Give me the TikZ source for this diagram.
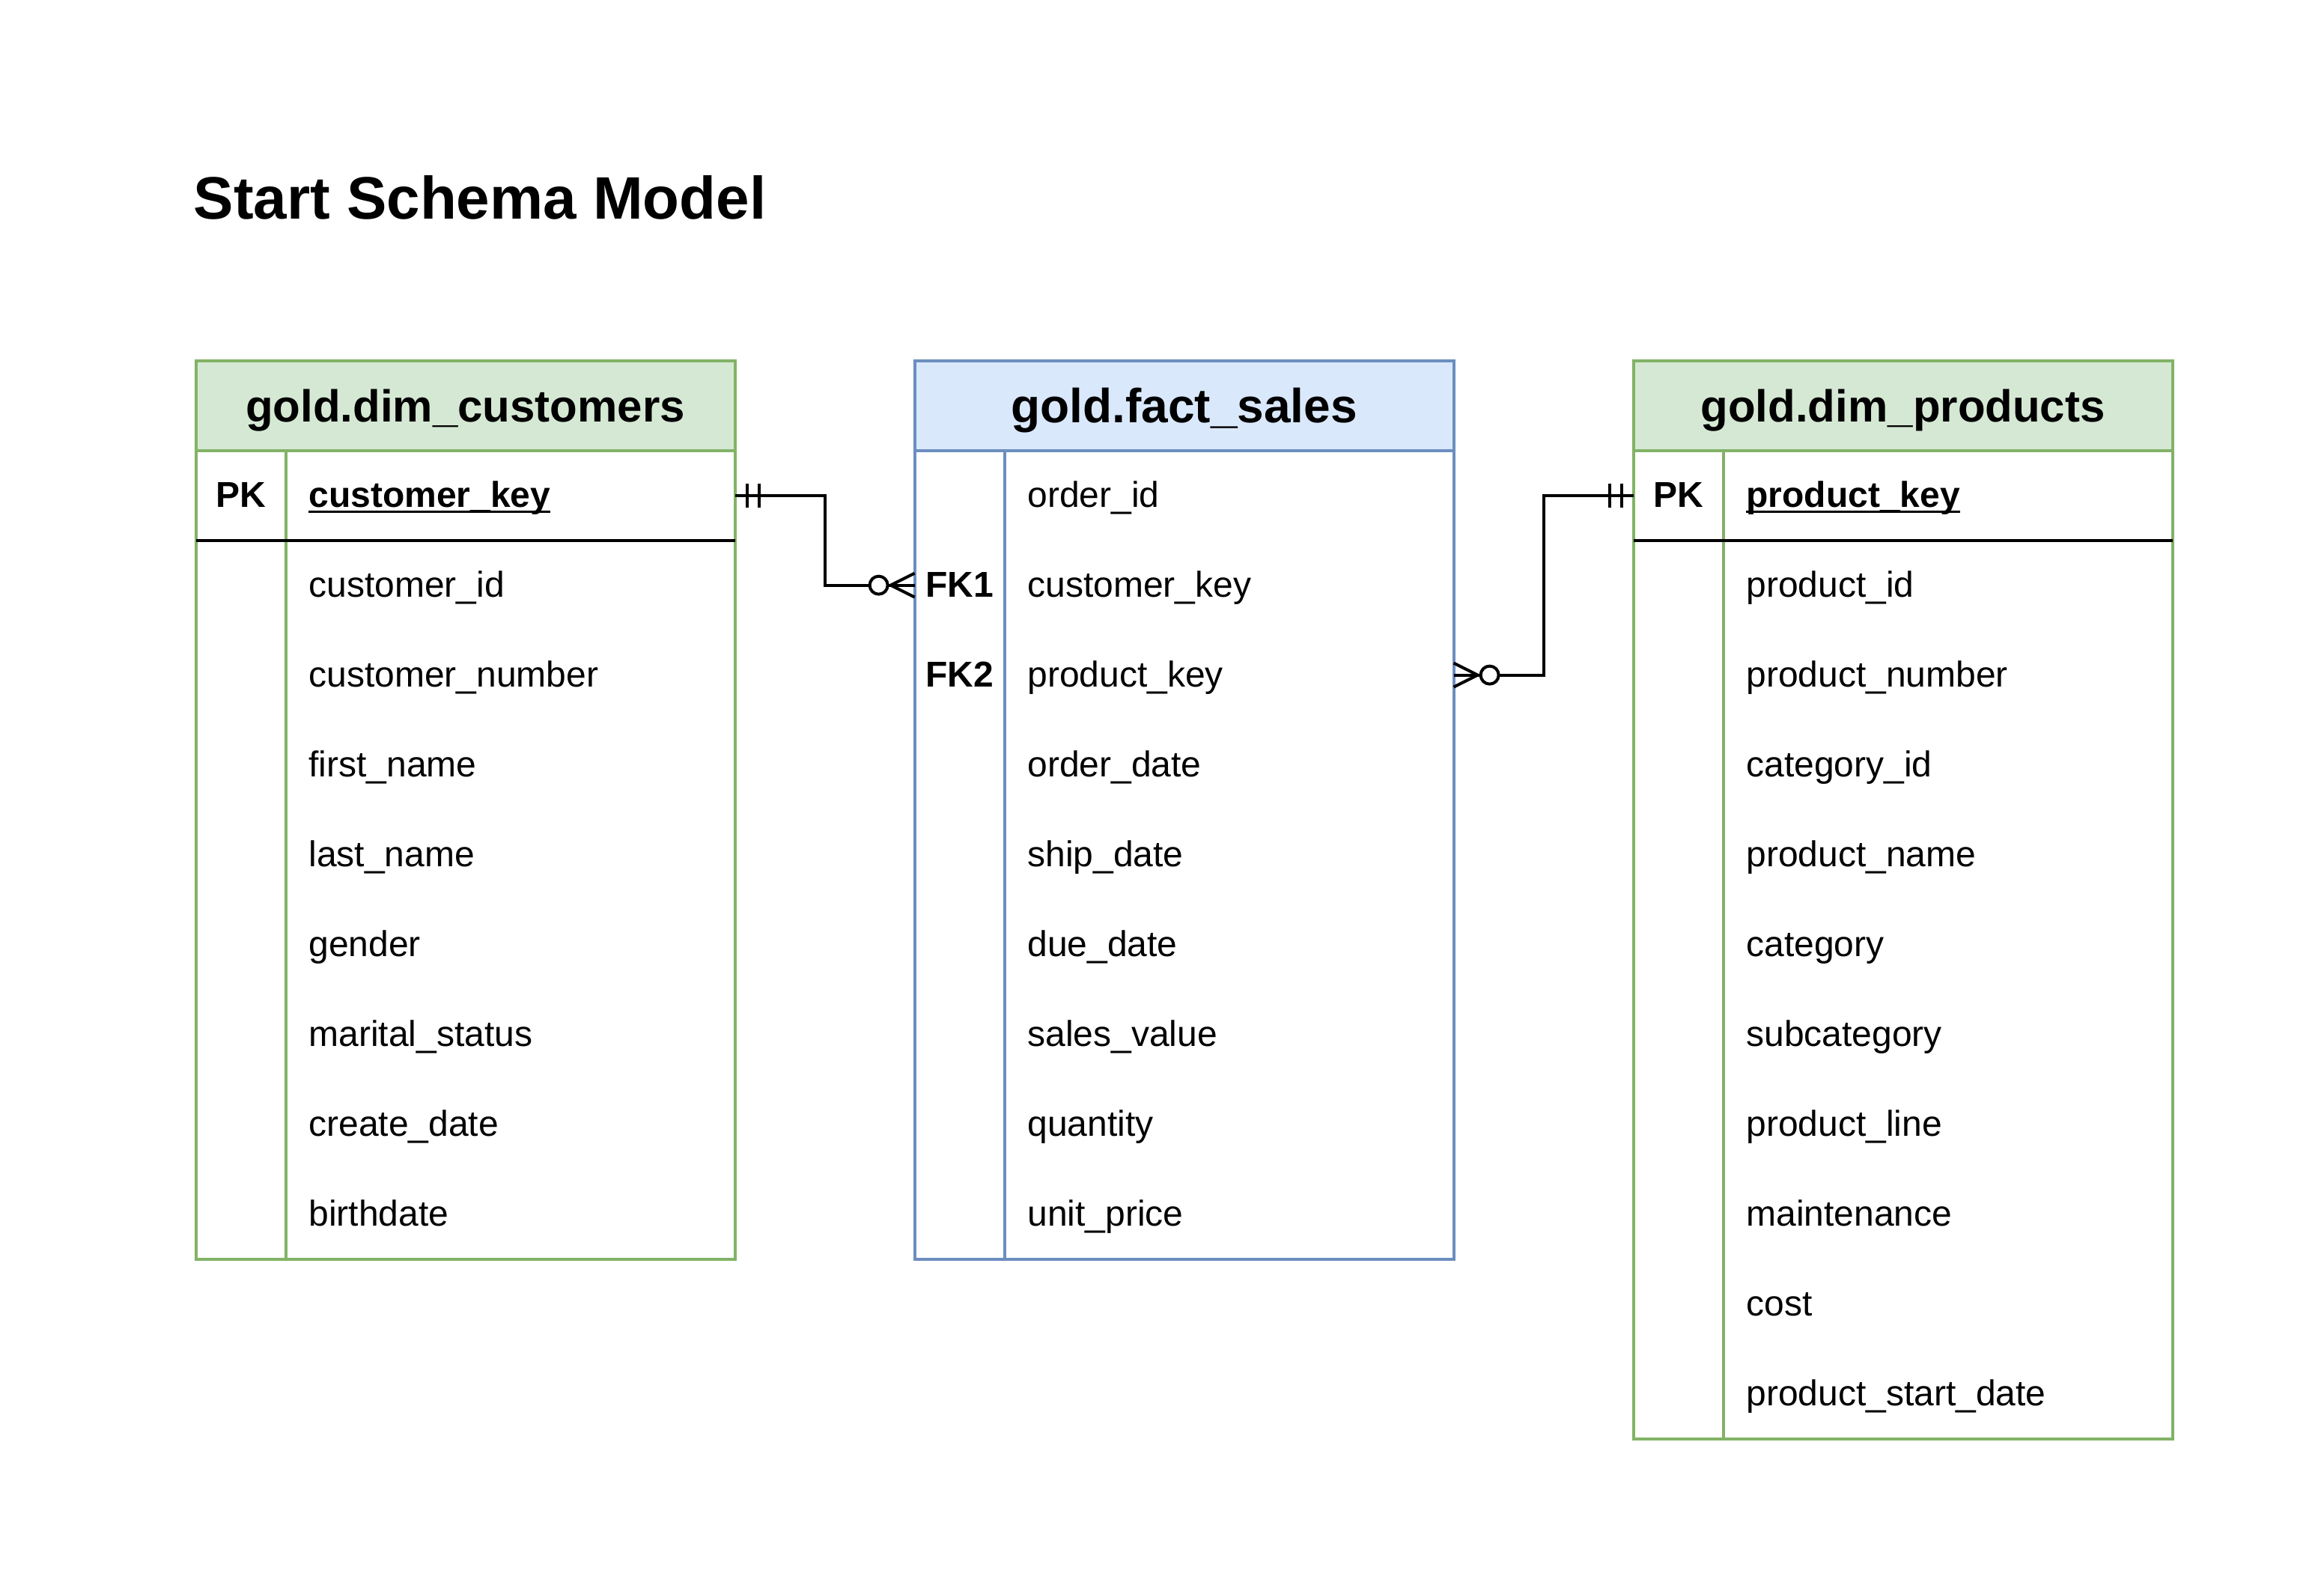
\documentclass[tikz,border=0pt]{standalone}
\usepackage{fontspec}
\setmainfont{Liberation Sans}
\usepackage{tikz}
\usetikzlibrary{positioning}
\definecolor{dimfill}{HTML}{D5E8D4}
\definecolor{dimline}{HTML}{82B366}
\definecolor{factfill}{HTML}{DAE8FC}
\definecolor{factline}{HTML}{6C8EBF}
\newcommand\titlesize{\fontsize{20}{24}\selectfont\bfseries}
\newcommand\headsize{\fontsize{15}{18}\selectfont\bfseries}
\newcommand\bodysize{\fontsize{12}{14}\selectfont}
\newcommand\keyname[1]{\setbox0\hbox{\bfseries #1}\rlap{\rule[-2pt]{\wd0}{0.9pt}}\box0}
\tikzstyle{dimhead} = [draw=dimline, fill=dimfill, line width=1pt, minimum width=180pt, minimum height=30pt, inner sep=0pt, outer sep=0pt, text height=10.7pt, text depth=0pt, font=\headsize]
\tikzstyle{facthead} = [dimhead, draw=factline, fill=factfill, text height=11.4pt, font=\fontsize{16}{19}\selectfont\bfseries]
\tikzstyle{tblrow} = [minimum width=180pt, minimum height=30pt, inner sep=0pt, outer sep=0pt]
\tikzstyle{keycol} = [inner sep=0pt, text height=7.8pt, text depth=0pt, font=\bodysize\bfseries]
\tikzstyle{fieldcol} = [anchor=west, inner sep=0pt, text height=7.8pt, text depth=0pt, font=\bodysize]
\tikzstyle{rel} = [line width=1pt, black]

\begin{document}
\begin{tikzpicture}[x=1pt, y=-1pt]
    \fill[white] (0,0) rectangle (776,531);
    \useasboundingbox (0,0) rectangle (776,531);
    \node[anchor=base west, inner sep=0pt, font=\titlesize] (title) at (64.5,73) {Start Schema Model};

    % headers
    \node[dimhead] (cust) at (155.4,135.4) {gold.dim\_customers};
    \node[facthead, right=60pt of cust] (fact) {gold.fact\_sales};
    \node[dimhead, right=60pt of fact] (prod) {gold.dim\_products};

    % gold.dim_customers
    \node[tblrow] (c1) at ([yshift=-30pt]cust.center) {};
    \node[keycol] (c1k) at ([xshift=15pt]c1.west) {PK};
    \node[fieldcol] (c1f) at ([xshift=37.5pt]c1.west) {\keyname{customer\_key}};
    \foreach \f [count=\i from 2] in {customer\_id, customer\_number, first\_name, last\_name, gender, marital\_status, create\_date, birthdate}
        \node[tblrow] (c\i) at ([yshift={-30*\i}]cust.center) {} node[fieldcol] at ([xshift=37.5pt]c\i.west) {\f};
    \draw[dimline, line width=1pt] (cust.south west) rectangle (c9.south east);
    \draw[dimline, line width=1pt] ([xshift=30pt]cust.south west) -- ([xshift=30pt]c9.south west);
    \draw[rel] (c1.south west) -- (c1.south east);

    % gold.fact_sales
    \foreach \f [count=\i] in {order\_id, customer\_key, product\_key, order\_date, ship\_date, due\_date, sales\_value, quantity, unit\_price}
        \node[tblrow] (f\i) at ([yshift={-30*\i}]fact.center) {} node[fieldcol] at ([xshift=37.5pt]f\i.west) {\f};
    \node[keycol] (f2k) at ([xshift=15pt]f2.west) {FK1};
    \node[keycol] (f3k) at ([xshift=15pt]f3.west) {FK2};
    \draw[factline, line width=1pt] (fact.south west) rectangle (f9.south east);
    \draw[factline, line width=1pt] ([xshift=30pt]fact.south west) -- ([xshift=30pt]f9.south west);

    % gold.dim_products
    \node[tblrow] (p1) at ([yshift=-30pt]prod.center) {};
    \node[keycol] (p1k) at ([xshift=15pt]p1.west) {PK};
    \node[fieldcol] (p1f) at ([xshift=37.5pt]p1.west) {\keyname{product\_key}};
    \foreach \f [count=\i from 2] in {product\_id, product\_number, category\_id, product\_name, category, subcategory, product\_line, maintenance, cost, product\_start\_date}
        \node[tblrow] (p\i) at ([yshift={-30*\i}]prod.center) {} node[fieldcol] at ([xshift=37.5pt]p\i.west) {\f};
    \draw[dimline, line width=1pt] (prod.south west) rectangle (p11.south east);
    \draw[dimline, line width=1pt] ([xshift=30pt]prod.south west) -- ([xshift=30pt]p11.south west);
    \draw[rel] (p1.south west) -- (p1.south east);

    % relations
    \draw[rel] (c1.east) -- ++(30,0) |- (f2.west);
    \draw[rel] ([xshift=4pt]c1.east) ++(0,-4) -- ++(0,8) ([xshift=8pt]c1.east) ++(0,-4) -- ++(0,8);
    \draw[rel] ([yshift=4pt]f2.west) -- ([xshift=-8pt]f2.west) -- ([yshift=-4pt]f2.west);
    \draw[rel, fill=white] ([xshift=-12pt]f2.west) circle (3pt);

    \draw[rel] (f3.east) -- ++(30,0) |- (p1.west);
    \draw[rel] ([xshift=-4pt]p1.west) ++(0,-4) -- ++(0,8) ([xshift=-8pt]p1.west) ++(0,-4) -- ++(0,8);
    \draw[rel] ([yshift=4pt]f3.east) -- ([xshift=8pt]f3.east) -- ([yshift=-4pt]f3.east);
    \draw[rel, fill=white] ([xshift=12pt]f3.east) circle (3pt);
\end{tikzpicture}
\end{document}
